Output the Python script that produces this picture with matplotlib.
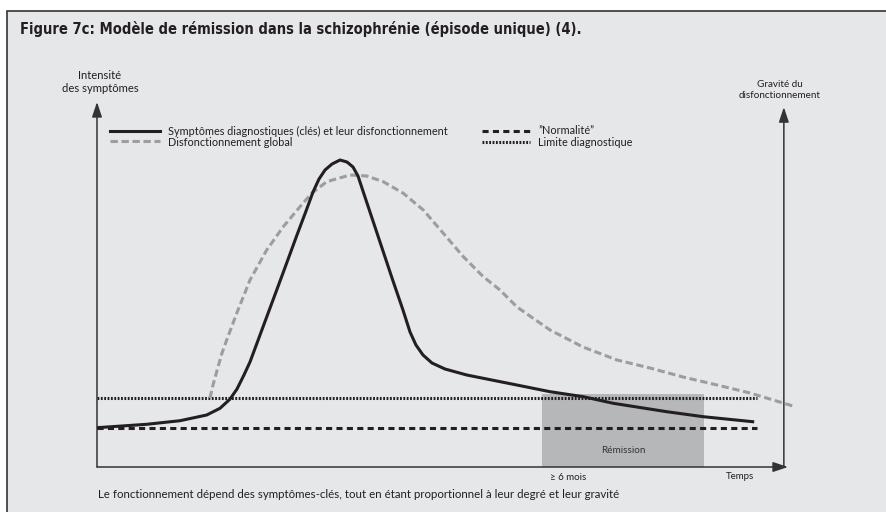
import matplotlib
matplotlib.use("Agg")
import matplotlib.pyplot as plt
from matplotlib.patches import Rectangle

# conceptual curves (time 0-100, intensity 0-100)
sympt_x = [0, 7.19, 12.01, 15.88, 17.80, 19.25, 20.26, 21.27, 22.14, 23.30, 25.04, 26.92,
           28.94, 30.25, 31.26, 32.13, 33.00, 34.01, 35.17, 36.18, 37.05, 37.77,
           38.78, 39.94, 41.39, 42.84, 44.28, 45.30, 46.16, 47.18, 48.48, 50.36,
           53.50, 55.90, 60.74, 65.56, 70.38, 74.72, 82.45, 87.74, 94.89]
sympt_y = [10.77, 11.70, 12.68, 14.25, 16.08, 18.60, 21.37, 25.21, 28.77, 34.68, 43.56,
           53.15, 63.56, 70.14, 75.34, 78.90, 81.37, 83.01, 84.11, 83.56, 82.19, 79.73,
           73.97, 67.40, 59.18, 50.96, 43.01, 36.99, 33.42, 30.68, 28.49, 26.85,
           25.21, 24.30, 22.47, 20.63, 19.26, 17.45, 15.15, 13.78, 12.41]

glob_x = [16.35, 16.79, 17.51, 18.09, 18.77, 20.22, 22.14, 24.56, 26.96, 29.38, 31.07,
          33.24, 36.61, 39.03, 41.43, 44.33, 47.22, 50.12, 53.01, 55.90, 58.32,
          60.78, 65.56, 70.33, 75.25, 80.03, 84.80, 89.72, 94.50, 100.72]
glob_y = [18.9, 22.47, 27.40, 31.23, 34.79, 42.11, 51.23, 59.45, 65.84, 71.32, 74.99,
          78.16, 80.00, 79.73, 78.16, 74.99, 70.41, 64.03, 57.62, 52.14, 48.49,
          43.84, 37.53, 32.88, 29.32, 27.12, 24.66, 22.47, 20.27, 16.71]

normal_level = 10.7
diag_level = 18.9
ref_end = 95.5
remission_start = 64.4
remission_end = 87.8
remission_top = 20.0

title = "Figure 7c: Modèle de rémission dans la schizophrénie (épisode unique) (4)."
caption = ("Le fonctionnement dépend des symptômes-clés, tout en étant proportionnel "
           "à leur degré et leur gravité")

BG = "#e6e7e8"
INK = "#231f20"
GREY = "#9d9d9d"
sans = ["Lato", "DejaVu Sans"]

fig = plt.figure(figsize=(8.87, 5.12), dpi=100)
fig.patch.set_facecolor("white")

# background frame in pixel coordinates
bg = fig.add_axes([0, 0, 1, 1])
bg.set_xlim(0, 887)
bg.set_ylim(512, 0)
bg.axis("off")
bg.add_patch(Rectangle((7, 11), 900, 520, facecolor=BG, edgecolor="#333333", lw=1.2))
bg.text(20, 29, title, fontsize=10.5, fontweight="bold", va="center", color=INK,
        family=["DejaVu Sans"], fontstretch="condensed")
bg.text(98, 494, caption, fontsize=8.3, va="center", color=INK, family=sans)
bg.text(100, 82, "Intensité\ndes symptômes", fontsize=8.1, ha="center", va="center",
        color=INK, family=sans, linespacing=1.3)
bg.text(780, 90, "Gravité du\ndisfonctionnement", fontsize=7.1, ha="center", va="center",
        color=INK, family=sans, linespacing=1.25)

# legend drawn by hand
bg.plot([110, 160], [131, 131], color=INK, lw=2.2)
bg.plot([110, 160], [141, 141], color=GREY, lw=2.2, dashes=(2.4, 1.2))
bg.plot([482, 530], [131, 131], color=INK, lw=2.2, dashes=(2.0, 1.4))
bg.plot([482, 530], [142, 142], color=INK, lw=2.2, dashes=(0.6, 0.5))
legend_fs = 7.8
bg.text(168, 131, "Symptômes diagnostiques (clés) et leur disfonctionnement",
        fontsize=legend_fs, va="center", color=INK, family=sans)
bg.text(168, 142, "Disfonctionnement global", fontsize=legend_fs, va="center",
        color=INK, family=sans)
bg.text(538, 131, "\u201dNormalité\u201d", fontsize=legend_fs, va="center", color=INK,
        family=sans)
bg.text(538, 142, "Limite diagnostique", fontsize=legend_fs, va="center", color=INK,
        family=sans)

# chart axes
ax = fig.add_axes([97 / 887, (512 - 467) / 512, (788 - 97) / 887, (467 - 102) / 512])
ax.set_xlim(0, 100)
ax.set_ylim(0, 100)
ax.axis("off")
ax.patch.set_alpha(0)

ax.add_patch(Rectangle((remission_start, 0), remission_end - remission_start,
                       remission_top, facecolor="#b6b7b9", edgecolor="none", zorder=1))
ax.text((remission_start + remission_end) / 2, 4.4, "Rémission", fontsize=7.1,
        ha="center", va="center", color="#333333", family=sans)

ax.plot([0, ref_end], [normal_level, normal_level], color=INK, lw=2.2,
        dashes=(2.0, 1.4), zorder=2)
ax.plot([0, ref_end], [diag_level, diag_level], color=INK, lw=2.2,
        dashes=(0.6, 0.5), zorder=2)
ax.plot(glob_x, glob_y, color=GREY, lw=2.2, dashes=(2.4, 1.2), zorder=3, clip_on=False)
ax.plot(sympt_x, sympt_y, color=INK, lw=2.2, zorder=4, solid_joinstyle="round")

# axes with arrows
arrow = dict(arrowstyle="-|>,head_length=0.9,head_width=0.3", color="#333333", lw=1.1,
             shrinkA=0, shrinkB=0)
ax.annotate("", xy=(0, 1.0), xytext=(0, 0), xycoords="axes fraction", arrowprops=arrow)
ax.annotate("", xy=(1.0, 0), xytext=(0, 0), xycoords="axes fraction", arrowprops=arrow)
ax.annotate("", xy=(0.994, 0.986), xytext=(0.994, 0), xycoords="axes fraction",
            arrowprops=arrow)

ax.text(68.2, -3.0, "\u2265 6 mois", fontsize=7.0, ha="center", va="center",
        color=INK, family=sans, clip_on=False)
ax.text(93.1, -2.7, "Temps", fontsize=7.0, ha="center", va="center", color=INK,
        family=sans, clip_on=False)

fig.savefig("out.png", dpi=100, facecolor=fig.get_facecolor())
